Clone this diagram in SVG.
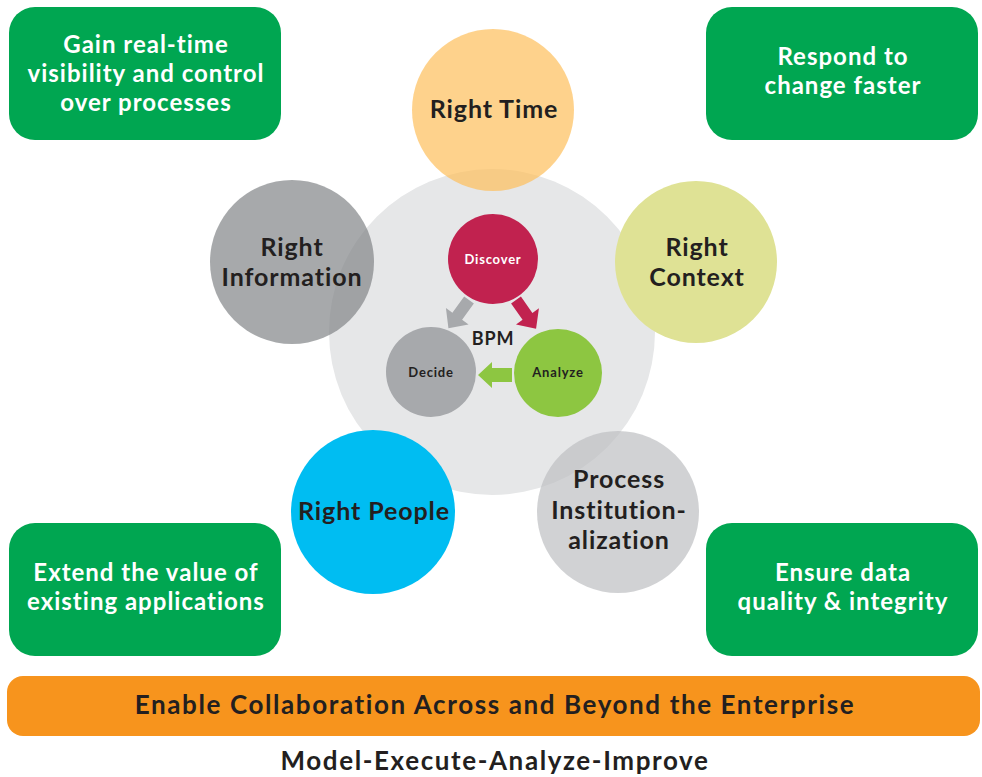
<svg xmlns="http://www.w3.org/2000/svg" width="982" height="777" viewBox="0 0 982 777">
<style>
.box{fill:#00a651}
.bt{font-family:Lato,"Open Sans",sans-serif;font-weight:700;font-size:24px;letter-spacing:1px;fill:#ffffff;text-anchor:middle}
.ct{font-family:Lato,"Open Sans",sans-serif;font-weight:700;font-size:25px;letter-spacing:0.9px;fill:#231f20;text-anchor:middle}
.st{font-family:Lato,"Open Sans",sans-serif;font-weight:700;font-size:13px;letter-spacing:0.8px;text-anchor:middle}
.lt{font-family:Lato,"Open Sans",sans-serif;font-weight:700;font-size:26px;letter-spacing:1.6px;fill:#231f20;text-anchor:middle}
</style>
<rect width="982" height="777" fill="#ffffff"/>
<g id="box-visibility"><rect class="box" x="9" y="7" width="272" height="133" rx="26"/><text class="bt" x="146" y="53">Gain real-time</text><text class="bt" x="146" y="82">visibility and control</text><text class="bt" x="146" y="111">over processes</text></g>
<g id="box-respond"><rect class="box" x="706" y="7" width="272" height="133" rx="26"/><text class="bt" x="843" y="65">Respond to</text><text class="bt" x="843" y="94">change faster</text></g>
<g id="box-extend"><rect class="box" x="9" y="523" width="272" height="133" rx="26"/><text class="bt" x="146" y="581">Extend the value of</text><text class="bt" x="146" y="610">existing applications</text></g>
<g id="box-ensure"><rect class="box" x="706" y="523" width="272" height="133" rx="26"/><text class="bt" x="843" y="581">Ensure data</text><text class="bt" x="843" y="610">quality &amp; integrity</text></g>
<g id="bpm-core"><circle cx="492" cy="332" r="163" fill="#e6e7e8"/></g>
<g id="right-time"><circle cx="493" cy="110" r="81" fill="#fdbf5b" fill-opacity="0.7"/><text class="ct" x="494" y="118">Right Time</text></g>
<g id="right-information"><circle cx="292" cy="262" r="82" fill="#818488" fill-opacity="0.7"/><text class="ct" x="292" y="256">Right</text><text class="ct" x="292" y="286">Information</text></g>
<g id="right-context"><circle cx="696" cy="262" r="81" fill="#dfe295"/><text class="ct" x="697" y="256">Right</text><text class="ct" x="697" y="286">Context</text></g>
<g id="right-people"><circle cx="373" cy="512" r="82" fill="#00bdf2"/><text class="ct" x="374" y="520">Right People</text></g>
<g id="process-inst"><circle cx="618" cy="512" r="81" fill="#bdbfc2" fill-opacity="0.7"/><text class="ct" x="619" y="488">Process</text><text class="ct" x="619" y="519">Institution-</text><text class="ct" x="619" y="549">alization</text></g>
<g id="discover"><circle cx="493" cy="259" r="45" fill="#c1224f"/><text class="st" x="493" y="264" fill="#ffffff">Discover</text></g>
<g id="decide"><circle cx="431" cy="372" r="45" fill="#a7a9ac"/><text class="st" x="431" y="377" fill="#231f20">Decide</text></g>
<g id="analyze"><circle cx="558" cy="373" r="44" fill="#8dc641"/><text class="st" x="558" y="377" fill="#231f20">Analyze</text></g>
<g id="bpm-label"><text x="493" y="345" font-family="Lato,'Open Sans',sans-serif" font-weight="700" font-size="18" letter-spacing="0.8" fill="#231f20" text-anchor="middle">BPM</text></g>
<g id="connectors">
<polygon transform="translate(469,300) rotate(126)" points="0,-6 20,-6 20,-14 35,0 20,14 20,6 0,6" fill="#a7a9ac"/>
<polygon transform="translate(516,300) rotate(55)" points="0,-6 20,-6 20,-14 35,0 20,14 20,6 0,6" fill="#c1224f"/>
<polygon transform="translate(512,375) rotate(180)" points="0,-7 20,-7 20,-13 34,0 20,13 20,7 0,7" fill="#8dc641"/>
</g>
<g id="collab-bar"><rect x="7" y="676" width="973" height="60" rx="16" fill="#f7941d"/><text class="lt" x="495" y="714">Enable Collaboration Across and Beyond the Enterprise</text></g>
<g id="footer"><text class="lt" x="495" y="770">Model-Execute-Analyze-Improve</text></g>
</svg>
